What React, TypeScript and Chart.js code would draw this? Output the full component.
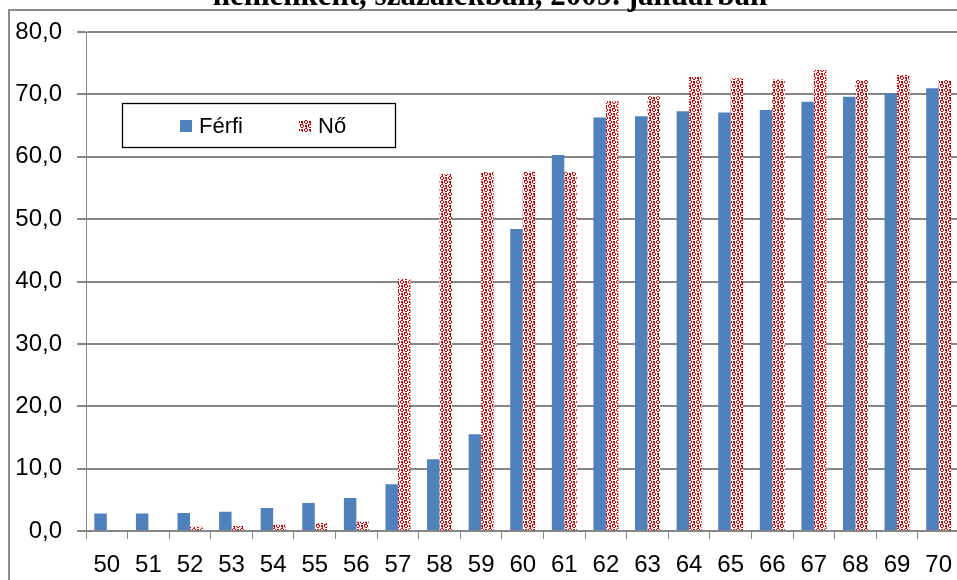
import React, { useEffect, useRef } from 'react';
import { Chart, registerables } from 'chart.js';

Chart.register(...registerables);

const categories = ['50', '51', '52', '53', '54', '55', '56', '57', '58', '59', '60', '61', '62', '63', '64', '65', '66', '67', '68', '69', '70'];
const ferfiValues = [2.8, 2.8, 2.9, 3.1, 3.7, 4.5, 5.3, 7.5, 11.5, 15.5, 48.4, 60.3, 66.3, 66.5, 67.3, 67.1, 67.5, 68.8, 69.6, 70.2, 71.0];
const noValues = [0, 0, 0.7, 0.8, 1.0, 1.3, 1.5, 40.4, 57.2, 57.5, 57.6, 57.5, 68.9, 69.7, 72.8, 72.6, 72.4, 73.9, 72.3, 73.1, 72.3];
const seriesLabels = ['Férfi', 'Nő'];
const yMin = 0;
const yMax = 80;
const yStep = 10;
const titleText = 'nemenként, százalékban, 2009. januárban';

const BLUE = '#4F81BD';
const RED = '#D00000';
const GRID = '#868686';
const FONT = '"Liberation Sans", Arial, sans-serif';

const PATTERN_ROWS = [
  '.XX.....',
  'X..X.XX.',
  'X..X.XX.',
  '.XX...X.',
  '....XXX.',
  '.XX.X..X',
  '.XX.X..X',
  '..X..XX.',
];

function makePattern(): CanvasPattern | string {
  const tile = document.createElement('canvas');
  tile.width = 8;
  tile.height = 8;
  const tctx = tile.getContext('2d');
  if (!tctx) return RED;
  tctx.fillStyle = '#ffffff';
  tctx.fillRect(0, 0, 8, 8);
  tctx.fillStyle = RED;
  PATTERN_ROWS.forEach((row, y) => {
    for (let x = 0; x < row.length; x++) {
      if (row[x] === 'X') tctx.fillRect(x, y, 1, 1);
    }
  });
  const p = tctx.createPattern(tile, 'repeat');
  return p || RED;
}

export default function App() {
  const ref = useRef<HTMLCanvasElement>(null);

  useEffect(() => {
    const canvas = ref.current;
    if (!canvas) return;
    const pattern = makePattern();

    const decor = {
      id: 'decor',
      beforeDraw(chart: any) {
        const ctx = chart.ctx as CanvasRenderingContext2D;
        ctx.save();
        ctx.fillStyle = '#ffffff';
        ctx.fillRect(0, 0, chart.width, chart.height);
        ctx.fillStyle = '#8c8c8c';
        ctx.fillRect(8, 9, chart.width, 2);
        ctx.fillRect(8, 9, 2, chart.height);
        ctx.fillStyle = '#000';
        ctx.font = 'bold 31px "Liberation Serif", "Times New Roman", serif';
        ctx.textAlign = 'center';
        ctx.textBaseline = 'alphabetic';
        ctx.fillText(titleText, 490, 5);
        ctx.restore();
      },
      afterDraw(chart: any) {
        const ctx = chart.ctx as CanvasRenderingContext2D;
        ctx.save();
        const bx = 122.5, by = 103.5, bw = 273, bh = 44;
        ctx.fillStyle = '#ffffff';
        ctx.fillRect(bx, by, bw, bh);
        ctx.strokeStyle = '#000';
        ctx.lineWidth = 1.3;
        ctx.strokeRect(bx, by, bw, bh);
        ctx.font = '22px ' + FONT;
        ctx.textBaseline = 'alphabetic';
        ctx.textAlign = 'left';
        const items = [
          { x: 180, label: chart.data.datasets[0].label, fill: BLUE },
          { x: 299, label: chart.data.datasets[1].label, fill: pattern },
        ];
        items.forEach((it) => {
          ctx.fillStyle = it.fill as any;
          ctx.fillRect(it.x, 120, 12, 12);
          ctx.fillStyle = '#000';
          ctx.fillText(it.label, it.x + 19, 133);
        });
        ctx.restore();
      },
    };

    const chart = new Chart(canvas, {
      type: 'bar',
      data: {
        labels: categories,
        datasets: [
          { label: seriesLabels[0], data: ferfiValues, backgroundColor: BLUE, borderWidth: 0 },
          { label: seriesLabels[1], data: noValues, backgroundColor: pattern as any, borderWidth: 0 },
        ],
      },
      options: {
        responsive: false,
        animation: false,
        maintainAspectRatio: false,
        devicePixelRatio: 1,
        layout: { padding: { top: 32, left: 0, right: 0, bottom: 0 } },
        datasets: {
          bar: { categoryPercentage: 0.6, barPercentage: 1.0 },
        },
        plugins: {
          legend: { display: false },
          title: { display: false },
          tooltip: { enabled: false },
        },
        scales: {
          x: {
            type: 'category',
            offset: true,
            grid: {
              display: true,
              drawOnChartArea: false,
              drawTicks: true,
              tickLength: 8,
              offset: true,
              color: GRID,
              lineWidth: 1,
            },
            border: { display: true, color: GRID, width: 2 },
            ticks: {
              color: '#000',
              font: { family: FONT, size: 24 },
              padding: 12,
              maxRotation: 0,
              autoSkip: false,
            },
            afterFit(scale: any) {
              scale.height = 49;
            },
          },
          y: {
            min: yMin,
            max: yMax,
            grid: {
              color: GRID,
              lineWidth: 2,
              tickLength: 9,
              drawTicks: true,
            },
            border: { display: true, color: GRID, width: 1 },
            ticks: {
              stepSize: yStep,
              color: '#000',
              font: { family: FONT, size: 24 },
              padding: 15,
              callback: (v: any) => Number(v).toFixed(1).replace('.', ','),
            },
            afterFit(scale: any) {
              scale.width = 86;
            },
          },
        },
      },
      plugins: [decor],
    });

    return () => chart.destroy();
  }, []);

  return (
    <div style={{ position: 'absolute', left: 0, top: 0, width: 957, height: 580, overflow: 'hidden', background: '#fff' }}>
      <canvas ref={ref} width={964} height={580} style={{ display: 'block', width: 964, height: 580 }} />
    </div>
  );
}
